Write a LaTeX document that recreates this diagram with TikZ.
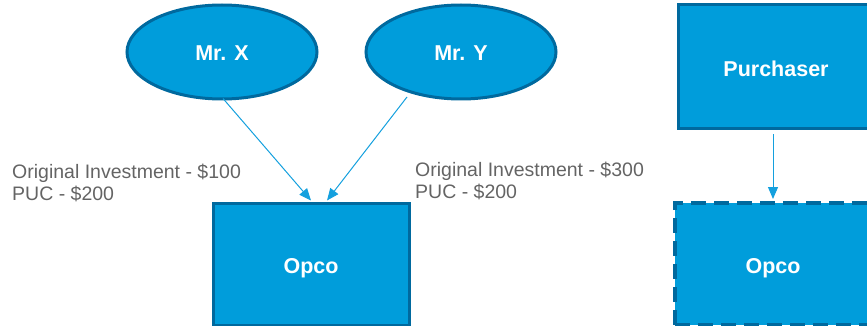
\documentclass[tikz,border=0pt]{standalone}
\usepackage{fontspec}
\setmainfont{Liberation Sans}
\usetikzlibrary{shapes.geometric,arrows.meta,calc}
\definecolor{boxfill}{RGB}{0,157,219}
\definecolor{boxedge}{RGB}{0,105,158}
\definecolor{linkcol}{RGB}{20,160,222}
\definecolor{notecol}{RGB}{100,100,100}
\newcommand{\lowerby}[2]{\raisebox{-#1}[\height][\depth]{#2}}
\tikzset{
  ent/.style={draw=boxedge, fill=boxfill, line width=3pt, text=white,
    font=\fontsize{21.5}{24}\selectfont\bfseries, inner sep=0pt},
  person/.style={ent, ellipse, minimum width=190pt, minimum height=94pt},
  company/.style={ent, rectangle, minimum width=196pt, minimum height=122pt},
  link/.style={draw=linkcol, line width=1pt, -{Triangle[length=12pt,width=10pt]}},
  note/.style={text=notecol, font=\fontsize{19.5}{22}\selectfont, inner sep=0pt, anchor=base west}
}
\begin{document}
\begin{tikzpicture}[x=1pt,y=-1pt]
\useasboundingbox (0,0) rectangle (867,326);
\clip (0,0) rectangle (867,326);
\node[person] (mrx) at (222,52) {\lowerby{1pt}{Mr. X}};
\node[person] (mry) at (461,52) {\lowerby{1pt}{Mr. Y}};
\node[company] (opcoa) at (311,264) {\lowerby{4pt}{Opco}};
\node[company, minimum height=124pt] (purch) at (776,67) {\lowerby{2pt}{Purchaser}};
\node[company, line width=4pt, dash pattern=on 15pt off 8pt] (opcob) at (773,264) {\lowerby{4pt}{Opco}};
\node[note] (n1a) at (12,178) {Original Investment - \$100};
\node[note] (n1b) at (12,200) {PUC - \$200};
\node[note] (n2a) at (415,176) {Original Investment - \$300};
\node[note] (n2b) at (415,198) {PUC - \$200};
\draw[link] ($(mrx.south)+(1,-2)$) -- ($(opcoa.north)+(0,-1)$);
\draw[link] ($(mry.center)+(-54,45)$) -- ($(opcoa.north)+(16,-1)$);
\draw[link] ($(opcob.north |- purch.south)+(0,4)$) -- ($(opcob.north)+(0,-2)$);
\end{tikzpicture}
\end{document}
